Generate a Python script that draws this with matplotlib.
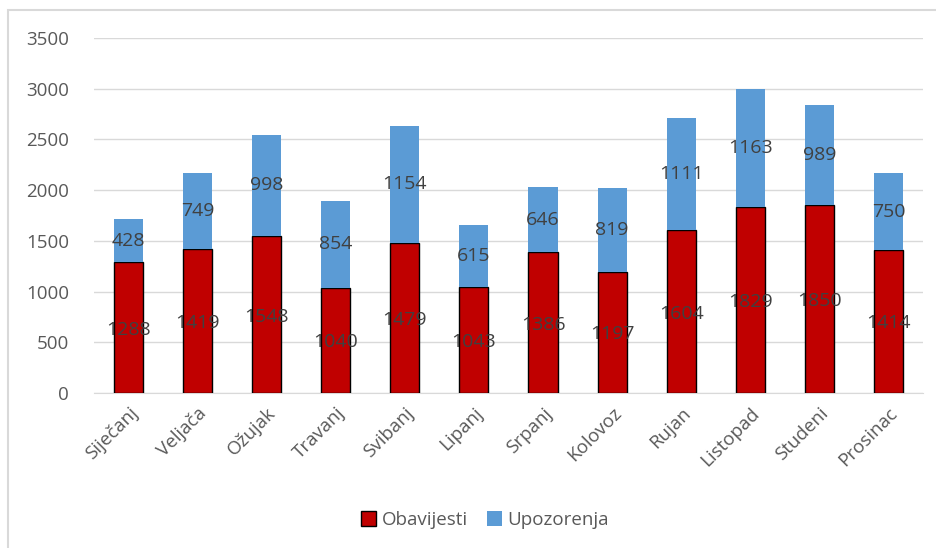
import matplotlib
matplotlib.use("Agg")
import matplotlib.pyplot as plt
from matplotlib.patches import Rectangle

months = ["Siječanj", "Veljača", "Ožujak", "Travanj", "Svibanj", "Lipanj",
          "Srpanj", "Kolovoz", "Rujan", "Listopad", "Studeni", "Prosinac"]
obavijesti = [1288, 1419, 1548, 1040, 1479, 1043, 1386, 1197, 1604, 1829, 1850, 1414]
upozorenja = [428, 749, 998, 854, 1154, 615, 646, 819, 1111, 1163, 989, 750]

plt.rcParams['font.family'] = ['Open Sans', 'DejaVu Sans']

fig = plt.figure(figsize=(9.37, 5.48), dpi=100)
ax = fig.add_axes([0.1003, 0.2828, 0.8847, 0.648])

# outer chart border
fig.patches.append(Rectangle((8/937, -0.1), 1.2, 1 - 10/548 + 0.1, transform=fig.transFigure,
                             fill=False, edgecolor='#D9D9D9', linewidth=1.5))

x = list(range(len(months)))
red = '#C00000'
blue = '#5B9BD5'
b1 = ax.bar(x, obavijesti, width=0.42, color=red, edgecolor='black', linewidth=1, label='Obavijesti', zorder=3)
b2 = ax.bar(x, upozorenja, width=0.42, bottom=obavijesti, color=blue, label='Upozorenja', zorder=3)

for i in x:
    ax.text(i, obavijesti[i] / 2 - 20, str(obavijesti[i]), ha='center', va='center',
            fontsize=14, color='#404040', zorder=4)
    ax.text(i, obavijesti[i] + upozorenja[i] / 2, str(upozorenja[i]), ha='center', va='center',
            fontsize=14, color='#404040', zorder=4)

ax.set_xlim(-0.5, 11.5)
ax.set_ylim(0, 3500)
ax.set_yticks(range(0, 3501, 500))
ax.yaxis.grid(True, color='#D9D9D9', linewidth=1, zorder=0)
ax.set_axisbelow(True)
for s in ['top', 'right', 'left']:
    ax.spines[s].set_visible(False)
ax.spines['bottom'].set_color('#D9D9D9')
ax.tick_params(axis='both', length=0, labelsize=13.5, labelcolor='#595959')
ax.tick_params(axis='y', pad=18)
ax.tick_params(axis='x', pad=8)
ax.set_xticks(x)
ax.set_xticklabels(months, rotation=45, ha='right', rotation_mode='anchor')

leg = fig.legend(handles=[b1, b2], loc='center', bbox_to_anchor=(485/937, 1 - 520/548),
                 ncol=2, frameon=False, fontsize=13.5, handlelength=0.8, handleheight=0.8,
                 columnspacing=1.0, handletextpad=0.3)
for t in leg.get_texts():
    t.set_color('#595959')

fig.savefig('out.png', dpi=100)
